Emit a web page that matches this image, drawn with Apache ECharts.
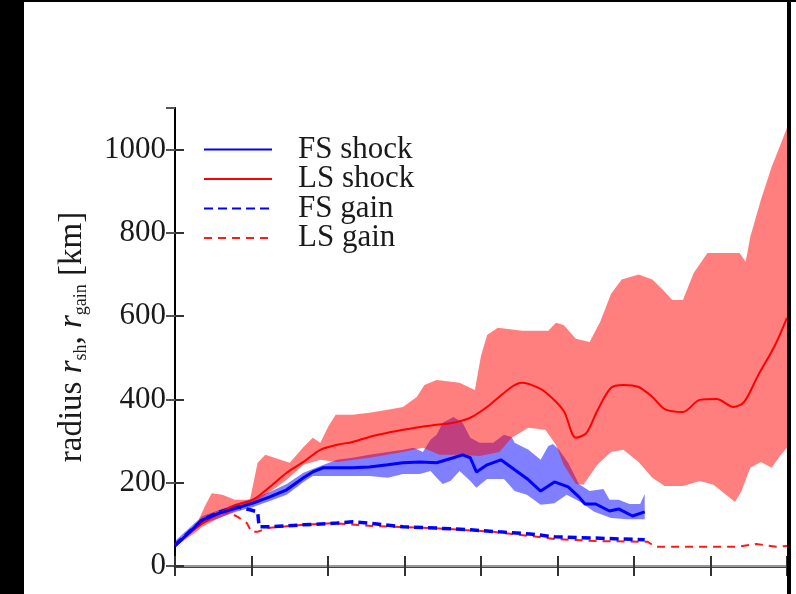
<!DOCTYPE html>
<html>
<head>
<meta charset="utf-8">
<title>shock and gain radius</title>
<script src="https://cdn.jsdelivr.net/npm/echarts@6/dist/echarts.min.js"></script>
<style>
  html, body { margin: 0; padding: 0; background: #fff; }
  #chart { width: 796px; height: 594px; }
</style>
</head>
<body>
<div id="chart"></div>
<script>
// time after bounce [ms] vs radius [km]
const fsShock = [[0, 48], [18, 111], [29, 127], [40, 139], [51, 151], [62, 166], [73, 183], [84, 212], [90, 226], [97, 236], [106, 236], [116, 236], [127, 238], [139, 243], [149, 248], [160, 250], [171, 248], [182, 260], [188, 267], [193, 260], [197, 226], [204, 243], [213, 255], [222, 231], [231, 207], [239, 180], [248, 202], [257, 190], [264, 166], [268, 149], [275, 149], [284, 132], [290, 137], [299, 120], [307, 130]]
const lsShock = [[0, 50], [18, 103], [29, 127], [40, 147], [51, 159], [62, 190], [73, 224], [84, 250], [95, 279], [106, 291], [116, 298], [127, 310], [139, 320], [149, 327], [160, 334], [171, 339], [182, 344], [193, 356], [205, 385], [220, 430], [227, 440], [235, 432], [242, 418], [254, 373], [262, 308], [269, 320], [276, 373], [285, 428], [293, 435], [303, 430], [312, 406], [320, 377], [332, 370], [343, 399], [354, 401], [365, 382], [372, 394], [381, 457], [392, 529], [400, 596]]
const fsGain = [[0, 50], [18, 111], [29, 130], [41, 142], [49, 135], [54, 130], [55, 94], [62, 94], [84, 99], [106, 103], [116, 106], [127, 103], [149, 94], [171, 91], [193, 87], [212, 82], [232, 77], [248, 70], [275, 67], [307, 63]]
const lsGain = [[0, 50], [18, 106], [29, 127], [36, 127], [41, 118], [47, 103], [50, 82], [54, 82], [60, 91], [84, 99], [103, 103], [129, 96], [169, 91], [208, 82], [232, 72], [248, 65], [275, 60], [309, 58], [314, 46], [341, 46], [367, 46], [380, 53], [393, 46], [400, 48]]

// spread of the shock radius (upper / lower edge of the shaded bands)
const fsBandUpper = [[0, 60], [18, 120], [40, 149], [51, 163], [62, 178], [73, 197], [84, 224], [95, 240], [106, 255], [116, 260], [127, 267], [139, 274], [149, 279], [156, 284], [162, 274], [167, 303], [171, 315], [175, 344], [182, 358], [188, 344], [193, 308], [199, 296], [208, 296], [215, 315], [220, 310], [222, 296], [231, 279], [239, 255], [244, 288], [247, 293], [251, 279], [257, 248], [264, 197], [271, 180], [280, 185], [284, 159], [290, 159], [297, 149], [304, 149], [307, 173]]
const fsBandLower = [[0, 50], [18, 101], [40, 130], [51, 142], [62, 156], [73, 171], [84, 202], [90, 216], [106, 216], [127, 216], [139, 212], [149, 221], [160, 221], [167, 228], [171, 212], [175, 197], [180, 204], [186, 228], [193, 204], [197, 188], [204, 209], [215, 209], [222, 180], [230, 171], [239, 147], [248, 151], [256, 171], [265, 154], [274, 130], [285, 115], [296, 112], [307, 112]]
const lsBandUpper = [[0, 55], [13, 91], [20, 147], [24, 175], [31, 171], [39, 159], [49, 159], [54, 248], [59, 267], [69, 255], [75, 248], [84, 286], [90, 308], [95, 296], [100, 334], [105, 363], [116, 363], [127, 368], [139, 375], [149, 382], [158, 406], [163, 435], [171, 447], [186, 440], [196, 423], [200, 505], [204, 555], [211, 572], [227, 565], [244, 565], [249, 584], [254, 579], [262, 546], [271, 538], [278, 587], [285, 654], [292, 688], [303, 700], [312, 688], [319, 663], [325, 639], [332, 639], [339, 704], [348, 752], [369, 752], [373, 731], [376, 791], [383, 880], [390, 959], [397, 1024], [400, 1053]]
const lsBandLower = [[0, 46], [13, 80], [18, 95], [29, 115], [41, 135], [51, 150], [62, 178], [73, 207], [84, 243], [95, 255], [106, 250], [127, 260], [149, 274], [162, 284], [173, 267], [186, 267], [199, 264], [212, 274], [220, 308], [231, 332], [242, 327], [249, 291], [254, 243], [262, 197], [267, 195], [276, 243], [285, 274], [293, 279], [303, 250], [312, 212], [320, 192], [332, 192], [343, 204], [352, 195], [363, 163], [366, 154], [370, 178], [376, 236], [383, 250], [390, 236], [396, 267], [400, 284]]

const legendNames = ['FS shock', 'LS shock', 'FS gain', 'LS gain']
const serif = 'Liberation Serif'

function band(name, upper, lower, fill) {
  return {
    type: 'custom',
    name: name,
    silent: true,
    clip: true,
    data: [[0, 0]],
    renderItem: function (params, api) {
      const pts = upper.map((p) => api.coord(p)).concat(lower.slice().reverse().map((p) => api.coord(p)))
      return { type: 'polygon', shape: { points: pts }, style: { fill: fill } }
    }
  }
}

function line(name, data, color, width, type, smooth) {
  return {
    type: 'line',
    name: name,
    data: data,
    symbol: 'none',
    showSymbol: false,
    silent: true,
    smooth: smooth || false,
    lineStyle: { color: color, width: width, type: type || 'solid' },
    itemStyle: { color: color }
  }
}

const chart = echarts.init(document.getElementById('chart'))
chart.setOption({
  animation: false,
  backgroundColor: '#fff',
  grid: { left: 175, right: 9, top: 108, bottom: 28 },
  legend: {
    data: legendNames,
    orient: 'vertical',
    left: 203,
    top: 134,
    padding: 0,
    itemGap: -1.5,
    itemWidth: 68,
    itemHeight: 14,
    itemStyle: { opacity: 0 },
    textStyle: { fontFamily: serif, fontSize: 31, color: '#1a1a1a', lineHeight: 29.5, padding: [0, 0, 0, 21] }
  },
  xAxis: [
    {
      type: 'value', min: 0, max: 400, interval: 50,
      axisLine: { lineStyle: { color: '#444', width: 3 } },
      axisTick: { inside: true, length: 10, lineStyle: { color: '#333', width: 2 } },
      axisLabel: { show: false },
      splitLine: { show: false }
    },
    {
      type: 'value', min: 0, max: 400, interval: 50, position: 'top',
      axisLine: { lineStyle: { color: '#999', width: 2 } },
      axisTick: { inside: true, length: 9, lineStyle: { color: '#555', width: 2 } },
      axisLabel: { show: false },
      splitLine: { show: false }
    },
    {
      type: 'value', min: 0, max: 400, interval: 50, position: 'bottom',
      axisLine: { show: false },
      axisTick: { inside: false, length: 10, lineStyle: { color: '#333', width: 2 } },
      axisLabel: { show: false },
      splitLine: { show: false }
    }
  ],
  yAxis: [
    {
      type: 'value', min: 0, max: 1100, interval: 200,
      name: '{t|radius }{i|r}{s|sh}{t|, }{i|r}{s|gain}{t| [km]}',
      nameLocation: 'middle',
      nameGap: 85,
      nameTextStyle: {
        rich: {
          t: { fontFamily: serif, fontSize: 33, color: '#1a1a1a', lineHeight: 35 },
          i: { fontFamily: serif, fontSize: 33, fontStyle: 'italic', color: '#1a1a1a', lineHeight: 35 },
          s: { fontFamily: serif, fontSize: 18, color: '#1a1a1a', lineHeight: 15, verticalAlign: 'bottom' }
        }
      },
      axisLine: { lineStyle: { color: '#555', width: 2 } },
      axisTick: { inside: true, length: 9, lineStyle: { color: '#333', width: 2 } },
      axisLabel: {
        fontFamily: serif, fontSize: 31, color: '#1a1a1a', margin: 9, showMaxLabel: false,
        formatter: (v) => (v > 1000 ? '' : String(v))
      },
      splitLine: { show: false }
    },
    {
      type: 'value', min: 0, max: 1100, interval: 200, position: 'right',
      axisLine: { lineStyle: { color: '#000', width: 2 } },
      axisTick: { inside: true, length: 9, lineStyle: { color: '#555', width: 2 } },
      axisLabel: { show: false },
      splitLine: { show: false }
    }
  ],
  series: [
    band('FS spread', fsBandUpper, fsBandLower, 'rgba(0, 0, 255, 0.5)'),
    band('LS spread', lsBandUpper, lsBandLower, 'rgba(255, 0, 0, 0.5)'),
    line('LS gain', lsGain, '#ff1a1a', 2, [8, 6]),
    line('FS gain', fsGain, '#0000ff', 3.5, [9, 5]),
    line('LS shock', lsShock, '#ff0000', 2, 'solid', 0.3),
    line('FS shock', fsShock, '#0000ff', 3)
  ],
  graphic: [
    { type: 'rect', left: 0, top: 0, shape: { width: 24, height: 594 }, style: { fill: '#000' }, z: 100 },
    { type: 'rect', left: 0, top: 0, shape: { width: 796, height: 2 }, style: { fill: '#000' }, z: 100 },
    { type: 'rect', left: 787, top: 0, shape: { width: 4, height: 594 }, style: { fill: '#000' }, z: 100 }
  ]
})
</script>
</body>
</html>
